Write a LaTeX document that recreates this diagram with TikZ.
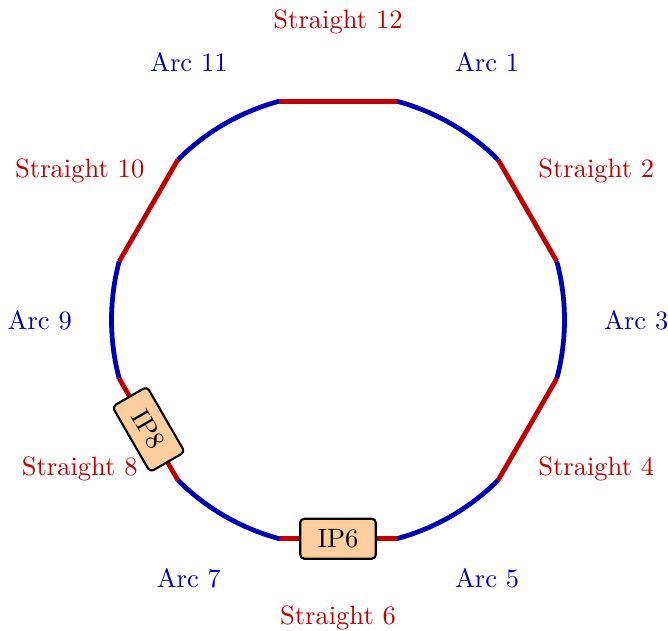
\documentclass[tikz,border=0pt]{standalone}
\usepackage{amsmath}
\usepackage{tikz}
\usetikzlibrary{calc}
\definecolor{arccolor}{RGB}{0,0,180}
\definecolor{straightcolor}{RGB}{192,0,0}
\definecolor{ipcolor}{RGB}{255,206,158}
\newcommand{\ringradius}{3}
\newcommand{\labelradius}{3.95}
\tikzset{
    ringbase/.style={
        line cap = butt, line join = round,
    },
    arcseg/.style={arccolor, line width=1.8pt},
    straightseg/.style={straightcolor, line width=1.8pt},
    arclabel/.style={text=arccolor},
    straightlabel/.style={text=straightcolor},
    ipbox/.style={
        draw=black, fill=ipcolor, thick, rounded corners=1.5pt,
        minimum width=1cm, minimum height=0.53cm, inner sep=1pt
    }
}

\begin{document}
\begin{tikzpicture}
        [ringbase]
        \useasboundingbox (-4.477,-4.119) rectangle (4.371,4.238);
        % corner points of the ring
        \foreach \i in {0,...,11}
            \coordinate (v\i) at ({15+30*\i}:\ringradius);
        % arcs
        \foreach \a/\b/\k in {v2/v1/1, v0/v11/3, v10/v9/5, v8/v7/7, v6/v5/9, v4/v3/11} {
            \pgfmathsetmacro{\ang}{90-30*\k}
            \draw[arcseg] (\a) arc[start angle={\ang+15}, end angle={\ang-15}, radius=\ringradius];
            \node[arclabel] (arc\k) at (\ang:\labelradius) {Arc \k};
        }
        % straights
        \foreach \a/\b/\k in {v1/v0/2, v11/v10/4, v9/v8/6, v7/v6/8, v5/v4/10, v3/v2/12} {
            \pgfmathsetmacro{\ang}{90-30*\k}
            \draw[straightseg] (\a) -- (\b);
            \node[straightlabel] (straight\k) at (\ang:\labelradius) {Straight \k};
        }
        % interaction points
        \node[ipbox] (ip6) at ($(v9)!.5!(v8)$) {IP6};
        \node[ipbox, rotate=-60] (ip8) at ($(v7)!.5!(v6)$) {IP8};
    \end{tikzpicture}
\end{document}
